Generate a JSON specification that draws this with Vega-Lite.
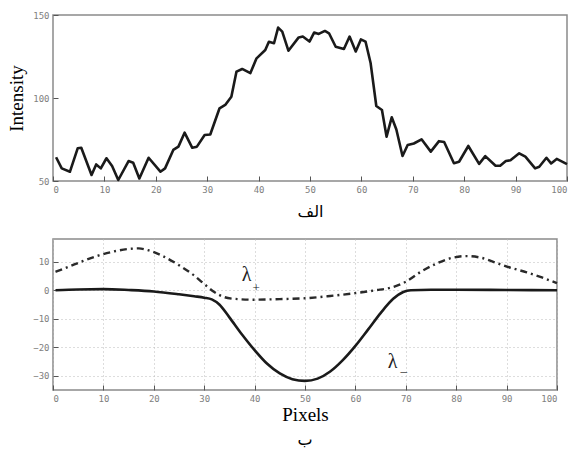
{
  "$schema": "https://vega.github.io/schema/vega-lite/v6.json",
  "padding": {"left": 6, "top": 10, "right": 5, "bottom": 2},
  "background": "white",
  "spacing": 18,
  "config": {
    "view": {"stroke": "#8a8a8a", "strokeWidth": 1.5},
    "axis": {
      "labelFont": "DejaVu Sans Mono",
      "labelFontSize": 9,
      "labelColor": "#808080",
      "labelOverlap": false,
      "domain": false,
      "tickColor": "#555555",
      "tickWidth": 1,
      "ticks": true,
      "tickSize": -5,
      "labelPadding": 9,
      "titleFontWeight": "normal",
      "titleColor": "#000000"
    }
  },
  "datasets": {
    "intensity": [
      {"x": 0.6, "v": 64.3}, {"x": 1.7, "v": 57.6}, {"x": 3.3, "v": 55.6}, {"x": 4.8, "v": 69.7},
      {"x": 5.5, "v": 70}, {"x": 7.5, "v": 53.6}, {"x": 8.4, "v": 60}, {"x": 9.3, "v": 57.6},
      {"x": 10.4, "v": 63.7}, {"x": 11.5, "v": 59}, {"x": 12.7, "v": 50.6}, {"x": 14.7, "v": 62},
      {"x": 15.6, "v": 61}, {"x": 16.8, "v": 51.5}, {"x": 18.6, "v": 64}, {"x": 20.9, "v": 55.6},
      {"x": 21.8, "v": 57.6}, {"x": 23.4, "v": 68.7}, {"x": 24.4, "v": 70.7}, {"x": 25.6, "v": 79.1},
      {"x": 27.1, "v": 70}, {"x": 28, "v": 70.7}, {"x": 29.5, "v": 77.7}, {"x": 30.6, "v": 78},
      {"x": 32.4, "v": 93.8}, {"x": 33.5, "v": 95.8}, {"x": 34.7, "v": 100.8}, {"x": 35.7, "v": 115.9},
      {"x": 36.8, "v": 117.5}, {"x": 38.4, "v": 115}, {"x": 39.6, "v": 123.9}, {"x": 41.3, "v": 128.9},
      {"x": 42, "v": 133.9}, {"x": 43, "v": 133}, {"x": 43.8, "v": 142.4}, {"x": 44.6, "v": 140},
      {"x": 45.8, "v": 128.5}, {"x": 47.8, "v": 136.5}, {"x": 48.6, "v": 137}, {"x": 49.9, "v": 134},
      {"x": 50.8, "v": 139.4}, {"x": 51.7, "v": 138.6}, {"x": 52.9, "v": 140.4}, {"x": 53.7, "v": 139},
      {"x": 55, "v": 130.9}, {"x": 56.6, "v": 129.5}, {"x": 57.7, "v": 137}, {"x": 58.9, "v": 128},
      {"x": 59.9, "v": 135.3}, {"x": 60.8, "v": 134}, {"x": 61.8, "v": 120.9}, {"x": 62.9, "v": 95.2},
      {"x": 64, "v": 92.8}, {"x": 64.9, "v": 76.7}, {"x": 65.9, "v": 88.4}, {"x": 66.8, "v": 81},
      {"x": 68, "v": 65.1}, {"x": 69, "v": 71.7}, {"x": 70.2, "v": 72.6}, {"x": 71.7, "v": 75.1},
      {"x": 73.5, "v": 67.7}, {"x": 75.1, "v": 74}, {"x": 76.1, "v": 73.5}, {"x": 78, "v": 60.7},
      {"x": 79, "v": 61.6}, {"x": 80.8, "v": 71.1}, {"x": 82.9, "v": 60.3}, {"x": 84.1, "v": 65},
      {"x": 86.1, "v": 59.2}, {"x": 87, "v": 59.2}, {"x": 88.1, "v": 62}, {"x": 89, "v": 62.5},
      {"x": 90.7, "v": 66.7}, {"x": 91.9, "v": 64.7}, {"x": 93.8, "v": 57.6}, {"x": 94.6, "v": 58.6},
      {"x": 96, "v": 64}, {"x": 96.9, "v": 60.6}, {"x": 98, "v": 63.3}, {"x": 100, "v": 60.2}
    ],
    "lambda": [
      {"s": "plus", "x": 0.5, "v": 6.5}, {"s": "plus", "x": 3, "v": 8.2}, {"s": "plus", "x": 6, "v": 10.3},
      {"s": "plus", "x": 9, "v": 12.2}, {"s": "plus", "x": 12, "v": 13.6}, {"s": "plus", "x": 15, "v": 14.5},
      {"s": "plus", "x": 17, "v": 14.7}, {"s": "plus", "x": 19, "v": 14.0}, {"s": "plus", "x": 22, "v": 11.8},
      {"s": "plus", "x": 25, "v": 8.8}, {"s": "plus", "x": 28, "v": 5.2}, {"s": "plus", "x": 30, "v": 2.2},
      {"s": "plus", "x": 32, "v": -0.6}, {"s": "plus", "x": 34, "v": -2.4}, {"s": "plus", "x": 36, "v": -3.0},
      {"s": "plus", "x": 40, "v": -3.3}, {"s": "plus", "x": 45, "v": -3.1}, {"s": "plus", "x": 50, "v": -2.8},
      {"s": "plus", "x": 55, "v": -2.0}, {"s": "plus", "x": 60, "v": -1.0}, {"s": "plus", "x": 64, "v": 0.0},
      {"s": "plus", "x": 67, "v": 0.9}, {"s": "plus", "x": 70, "v": 3.0}, {"s": "plus", "x": 73, "v": 6.5},
      {"s": "plus", "x": 76, "v": 9.3}, {"s": "plus", "x": 79, "v": 11.3}, {"s": "plus", "x": 82, "v": 12.0},
      {"s": "plus", "x": 85, "v": 11.4}, {"s": "plus", "x": 88, "v": 9.6}, {"s": "plus", "x": 91, "v": 7.8},
      {"s": "plus", "x": 94, "v": 6.3}, {"s": "plus", "x": 97, "v": 4.5}, {"s": "plus", "x": 100, "v": 2.5},
      {"s": "minus", "x": 0.5, "v": 0}, {"s": "minus", "x": 5, "v": 0.3}, {"s": "minus", "x": 10, "v": 0.4},
      {"s": "minus", "x": 15, "v": 0.1}, {"s": "minus", "x": 20, "v": -0.4}, {"s": "minus", "x": 25, "v": -1.4},
      {"s": "minus", "x": 28, "v": -2.1}, {"s": "minus", "x": 30, "v": -2.6}, {"s": "minus", "x": 31.5, "v": -3.2},
      {"s": "minus", "x": 33, "v": -5}, {"s": "minus", "x": 35, "v": -9.5}, {"s": "minus", "x": 37.5, "v": -15.5},
      {"s": "minus", "x": 40, "v": -21}, {"s": "minus", "x": 42.5, "v": -25.8}, {"s": "minus", "x": 45, "v": -29.2},
      {"s": "minus", "x": 47.5, "v": -31.2}, {"s": "minus", "x": 50, "v": -31.8}, {"s": "minus", "x": 52.5, "v": -31},
      {"s": "minus", "x": 55, "v": -28.5}, {"s": "minus", "x": 57.5, "v": -24.5}, {"s": "minus", "x": 60, "v": -19.5},
      {"s": "minus", "x": 62.5, "v": -13.8}, {"s": "minus", "x": 65, "v": -8}, {"s": "minus", "x": 67.5, "v": -3},
      {"s": "minus", "x": 69.5, "v": -0.6}, {"s": "minus", "x": 71, "v": 0}, {"s": "minus", "x": 75, "v": 0.2},
      {"s": "minus", "x": 80, "v": 0.2}, {"s": "minus", "x": 90, "v": 0.1}, {"s": "minus", "x": 100, "v": 0}
    ],
    "labels": [
      {"t": "λ", "x": 38.4, "v": 5.4, "size": 20},
      {"t": "+", "x": 40.3, "v": 0.8, "size": 13},
      {"t": "λ", "x": 67.4, "v": -25.1, "size": 20},
      {"t": "_", "x": 69.6, "v": -27.0, "size": 13}
    ]
  },
  "vconcat": [
    {
      "width": 514,
      "height": 166,
      "data": {"name": "intensity"},
      "mark": {"type": "line", "color": "#1a1a1a", "strokeWidth": 2.6, "strokeJoin": "round"},
      "encoding": {
        "x": {
          "field": "x", "type": "quantitative",
          "scale": {"domain": [0, 100], "nice": false},
          "axis": {"values": [0, 10, 20, 30, 40, 50, 60, 70, 80, 90, 100], "grid": false, "labelOverlap": false,
                   "title": "الف", "titleFont": "DejaVu Sans", "titleFontSize": 16, "titlePadding": 9}
        },
        "y": {
          "field": "v", "type": "quantitative",
          "scale": {"domain": [50, 150], "nice": false},
          "axis": {"values": [50, 100, 150], "grid": false, "labelOverlap": false,
                   "title": "Intensity", "titleFont": "Liberation Serif", "titleFontSize": 19, "titlePadding": 6}
        }
      }
    },
    {
      "width": 504,
      "height": 151,
      "title": {"text": "ب", "orient": "bottom", "font": "DejaVu Sans", "fontSize": 16, "fontWeight": "normal", "offset": 8},
      "encoding": {
        "x": {
          "field": "x", "type": "quantitative",
          "scale": {"domain": [0, 100], "nice": false},
          "axis": {"values": [0, 10, 20, 30, 40, 50, 60, 70, 80, 90, 100], "grid": true, "labelOverlap": false,
                   "gridColor": "#bbbbbb", "gridDash": [1, 3], "gridWidth": 1,
                   "title": "Pixels", "titleFont": "Liberation Serif", "titleFontSize": 19, "titlePadding": 2}
        },
        "y": {
          "field": "v", "type": "quantitative",
          "scale": {"domain": [-35, 18], "nice": false},
          "axis": {"values": [-30, -20, -10, 0, 10], "grid": true, "labelOverlap": false,
                   "gridColor": "#bbbbbb", "gridDash": [1, 3], "gridWidth": 1, "title": null}
        }
      },
      "layer": [
        {
          "data": {"name": "lambda"},
          "transform": [{"filter": "datum.s == 'plus'"}],
          "mark": {"type": "line", "color": "#2a2a2a", "strokeWidth": 2.4, "strokeDash": [7, 4, 2, 4], "interpolate": "monotone"}
        },
        {
          "data": {"name": "lambda"},
          "transform": [{"filter": "datum.s == 'minus'"}],
          "mark": {"type": "line", "color": "#1a1a1a", "strokeWidth": 2.6, "interpolate": "monotone"}
        },
        {
          "data": {"name": "labels"},
          "mark": {"type": "text", "font": "Liberation Serif", "color": "#222222", "baseline": "middle", "align": "center"},
          "encoding": {
            "text": {"field": "t"},
            "size": {"field": "size", "type": "quantitative", "scale": null}
          }
        }
      ]
    }
  ]
}
